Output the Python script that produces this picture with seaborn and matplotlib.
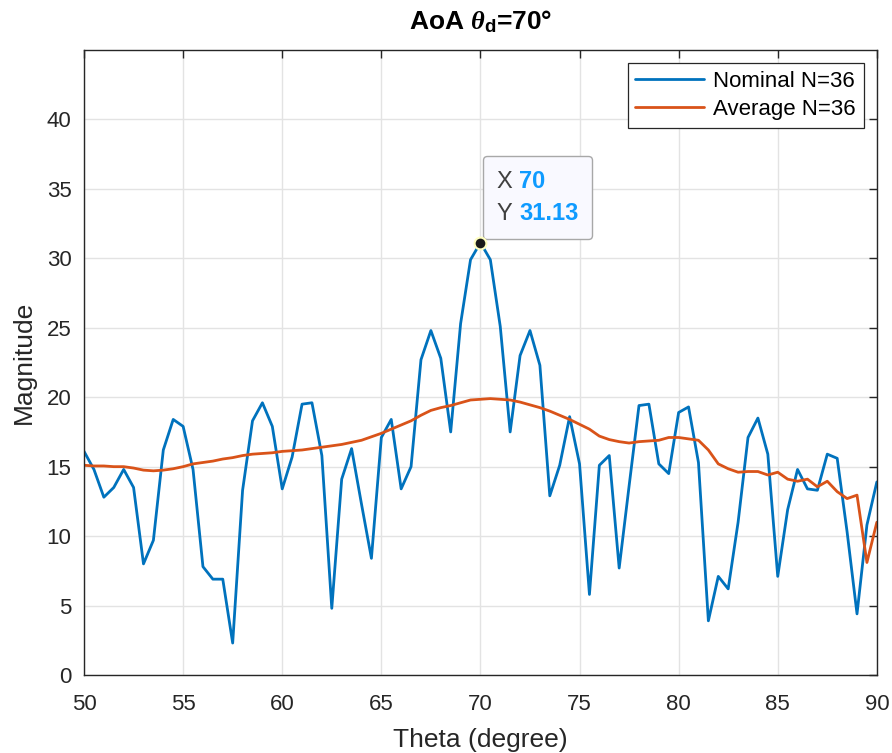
import numpy as np
import pandas as pd
import matplotlib
matplotlib.use("Agg")
import matplotlib.pyplot as plt
import seaborn as sns
from matplotlib.offsetbox import TextArea, HPacker, VPacker, AnnotationBbox

# Scan angles (degrees), 0.5 degree steps
theta = np.linspace(50, 90, 81)

nominal = [
    16.1, 14.8, 12.8, 13.5, 14.8, 13.5, 8.0, 9.7, 16.2, 18.4, 17.9,
    14.8, 7.8, 6.9, 6.9, 2.3, 13.3, 18.3, 19.6, 17.9, 13.4,
    15.7, 19.5, 19.6, 15.8, 4.8, 14.1, 16.3, 12.3, 8.4, 17.1,
    18.4, 13.4, 15.0, 22.7, 24.8, 22.8, 17.5, 25.3, 29.9, 31.13,
    29.9, 25.1, 17.5, 23.0, 24.8, 22.3, 12.9, 15.1, 18.6, 15.2,
    5.8, 15.1, 15.8, 7.7, 13.6, 19.4, 19.5, 15.2, 14.5, 18.9,
    19.3, 15.3, 3.9, 7.1, 6.2, 11.0, 17.1, 18.5, 15.9, 7.1,
    11.9, 14.8, 13.4, 13.3, 15.9, 15.6, 10.3, 4.4, 10.8, 13.9,
]

average = [
    15.1, 15.05, 15.05, 15.0, 15.0, 14.9, 14.75, 14.7, 14.75, 14.85, 15.0,
    15.2, 15.3, 15.4, 15.55, 15.65, 15.8, 15.9, 15.95, 16.0, 16.1,
    16.15, 16.2, 16.3, 16.4, 16.5, 16.6, 16.75, 16.9, 17.15, 17.4,
    17.7, 18.0, 18.3, 18.7, 19.05, 19.25, 19.4, 19.6, 19.8, 19.85,
    19.9, 19.85, 19.8, 19.65, 19.45, 19.25, 19.0, 18.7, 18.4, 18.05,
    17.7, 17.2, 16.95, 16.8, 16.7, 16.8, 16.85, 16.9, 17.1, 17.1,
    17.0, 16.9, 16.2, 15.2, 14.85, 14.6, 14.65, 14.65, 14.4, 14.6,
    14.1, 13.95, 14.1, 13.55, 13.95, 13.2, 12.7, 12.95, 8.1, 11.0,
]

series_names = ["Nominal N=36", "Average N=36"]
xticks = [50, 55, 60, 65, 70, 75, 80, 85, 90]
yticks = [0, 5, 10, 15, 20, 25, 30, 35, 40]

df = pd.concat([
    pd.DataFrame({"Theta": theta, "Magnitude": nominal, "Series": series_names[0]}),
    pd.DataFrame({"Theta": theta, "Magnitude": average, "Series": series_names[1]}),
])

sns.set_style("white")
plt.rcParams["font.family"] = ["Liberation Sans", "DejaVu Sans"]
plt.rcParams["mathtext.fontset"] = "custom"
plt.rcParams["mathtext.it"] = "Liberation Serif:italic:bold"
plt.rcParams["mathtext.bf"] = "Liberation Sans:bold"
plt.rcParams["mathtext.rm"] = "Liberation Sans"

ink = "#262626"
fig = plt.figure(figsize=(8.92, 7.53), dpi=100)
ax = fig.add_axes([0.0942, 0.1036, 0.8888, 0.8300])

sns.lineplot(data=df, x="Theta", y="Magnitude", hue="Series",
             palette=["#0072BD", "#D95319"], linewidth=2.0, ax=ax,
             legend=True)

ax.set_xlim(50, 90)
ax.set_ylim(0, 45)
ax.set_xticks(xticks)
ax.set_yticks(yticks)
ax.grid(True, color="#e3e3e3", linewidth=1.0)
ax.set_axisbelow(True)
for s in ax.spines.values():
    s.set_visible(True)
    s.set_color(ink)
    s.set_linewidth(1.0)
ax.tick_params(axis="both", direction="in", length=6, width=1.0,
               colors=ink, labelsize=16, top=True, right=True)
ax.tick_params(axis="x", pad=14)
ax.tick_params(axis="y", pad=9)
ax.set_xlabel("Theta (degree)", fontsize=19, color=ink, labelpad=9)
ax.set_ylabel("Magnitude", fontsize=19, color=ink, labelpad=8)
ax.set_title(r"AoA $\theta_{\mathbf{d}}$=70°", fontsize=19, fontweight="bold",
             color="black", pad=15)

leg = ax.legend(loc="upper right", fontsize=16, frameon=True, fancybox=False,
                edgecolor=ink, framealpha=1.0, borderpad=0.35, handlelength=3.1,
                handletextpad=0.4, labelspacing=0.3, borderaxespad=0.6)
leg.get_frame().set_linewidth(0.9)
for t in leg.get_texts():
    t.set_color("black")

# Data tip on the peak of the nominal pattern
ipk = int(np.argmax(nominal))
px, py = theta[ipk], nominal[ipk]
ax.plot([px], [py], marker="o", markersize=8.5, color="#1a1a1a",
        markeredgecolor="#ffffc0", markeredgewidth=1.5, zorder=8)

lab_kw = dict(color="#404040", fontsize=17, fontfamily="Liberation Sans")
val_kw = dict(color="#0f9bff", fontsize=17, fontweight="bold",
              fontfamily="Liberation Sans")
row_x = HPacker(children=[TextArea("X", textprops=lab_kw),
                          TextArea(f"{px:g}", textprops=val_kw)],
                pad=0, sep=5, align="baseline")
row_y = HPacker(children=[TextArea("Y", textprops=lab_kw),
                          TextArea(f"{py:.2f}", textprops=val_kw)],
                pad=0, sep=5, align="baseline")
tip = VPacker(children=[row_x, row_y], pad=0, sep=7, align="left")
ab = AnnotationBbox(tip, (px, py), xycoords="data",
                    xybox=(11.5, 12.5), boxcoords="offset points",
                    box_alignment=(0, 0), pad=0.55, frameon=True,
                    bboxprops=dict(boxstyle="round,pad=1.0,rounding_size=0.3",
                                   facecolor="#f9f9ff", edgecolor="#a8a8a8",
                                   linewidth=1.0),
                    zorder=7)
ax.add_artist(ab)

fig.savefig("out.png", dpi=100)
